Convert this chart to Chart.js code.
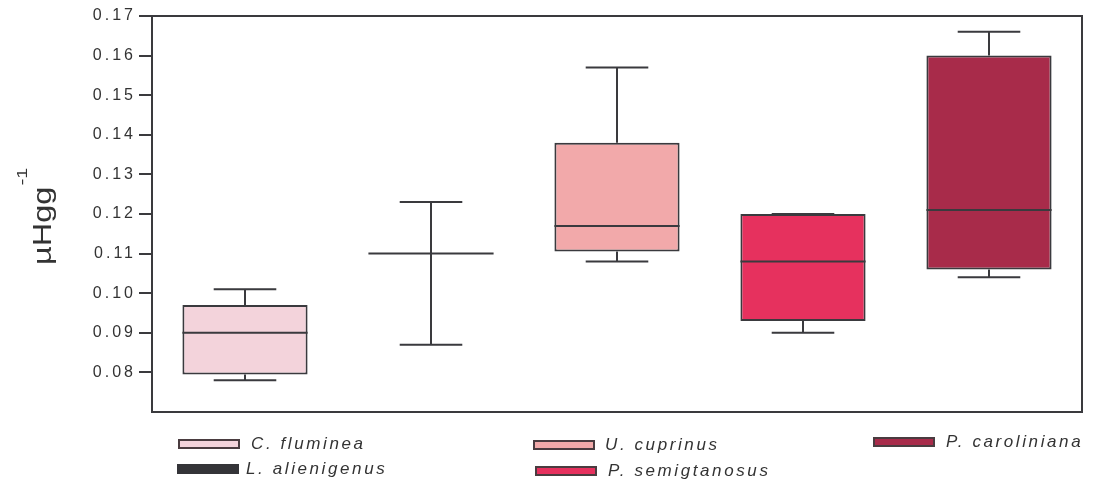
<!DOCTYPE html>
<html>
<head>
<meta charset="utf-8">
<script src="https://cdn.jsdelivr.net/npm/chart.js@4/dist/chart.umd.min.js"></script>
<style>
  html, body { margin: 0; padding: 0; background: #fff; }
  #wrap { position: relative; width: 1093px; height: 481px; overflow: hidden; }
  #chart { position: absolute; left: 0; top: 0; }
  .key { position: absolute; display: flex; align-items: center; }
  .swatch { box-sizing: border-box; width: 62px; height: 10px; border: 2px solid #4a3c40; }
  .key span {
    font-family: "Liberation Sans", Arial, sans-serif; font-style: italic;
    font-size: 17px; letter-spacing: 2.6px; color: #333; line-height: 20px;
  }
</style>
</head>
<body>
<div id="wrap">
  <canvas id="chart" width="1093" height="481"></canvas>
</div>
<script>
// Mercury concentration by species (box-and-whisker summary)
const categories = ['C. fluminea', 'L. alienigenus', 'U. cuprinus', 'P. semigtanosus', 'P. caroliniana'];
const whiskerLow  = [0.078, 0.087, 0.108, 0.090, 0.104];
const quartile1   = [0.0795, 0.110, 0.1105, 0.093, 0.106];
const medians     = [0.090, 0.110, 0.117, 0.108, 0.121];
const quartile3   = [0.097, 0.110, 0.138, 0.120, 0.160];
const whiskerHigh = [0.101, 0.123, 0.157, 0.120, 0.166];
const fillColors  = ['#f3d3db', '#343438', '#f2a9aa', '#e6315e', '#a82b4a'];
const tickLabels  = ['0.08', '0.09', '0.10', '0.11', '0.12', '0.13', '0.14', '0.15', '0.16', '0.17'];

const INK = '#3a3a3e';

// Legend laid out in three columns below the plot
const legendSpots = [
  { sx: 178, sy: 439, tx: 251, ty: 444 },
  { sx: 177, sy: 464, tx: 246, ty: 469 },
  { sx: 533, sy: 440, tx: 605, ty: 445 },
  { sx: 535, sy: 466, tx: 608, ty: 471 },
  { sx: 873, sy: 437, tx: 946, ty: 442 }
];
const wrap = document.getElementById('wrap');
categories.forEach((name, i) => {
  const p = legendSpots[i];
  const sw = document.createElement('div');
  sw.className = 'swatch';
  sw.style.position = 'absolute';
  sw.style.left = p.sx + 'px';
  sw.style.top = p.sy + 'px';
  sw.style.background = fillColors[i];
  if (i === 1) sw.style.borderColor = fillColors[i];
  wrap.appendChild(sw);
  const tx = document.createElement('div');
  tx.className = 'key';
  tx.style.left = p.tx + 'px';
  tx.style.top = (p.ty - 10) + 'px';
  const s = document.createElement('span');
  s.textContent = name;
  tx.appendChild(s);
  wrap.appendChild(tx);
});

// Whiskers, caps, medians and the plot frame
const boxExtras = {
  id: 'boxExtras',
  beforeDraw(chart) { chart.ctx.letterSpacing = '3px'; },
  afterDatasetsDraw(chart) {
    const { ctx, scales: { x, y }, chartArea } = chart;
    const bars = chart.getDatasetMeta(0).data;
    ctx.save();
    ctx.letterSpacing = '0px';
    ctx.strokeStyle = INK;
    ctx.lineWidth = 2;
    categories.forEach((c, i) => {
      const cx = x.getPixelForValue(i);
      const half = bars[i].width / 2;
      const cap = half / 2;
      const yLo = y.getPixelForValue(whiskerLow[i]);
      const yHi = y.getPixelForValue(whiskerHigh[i]);
      const yQ1 = y.getPixelForValue(quartile1[i]);
      const yQ3 = y.getPixelForValue(quartile3[i]);
      const yMed = y.getPixelForValue(medians[i]);
      ctx.beginPath();
      ctx.moveTo(cx, yQ3); ctx.lineTo(cx, yHi);
      ctx.moveTo(cx, yQ1); ctx.lineTo(cx, yLo);
      ctx.moveTo(cx - cap, yHi); ctx.lineTo(cx + cap, yHi);
      ctx.moveTo(cx - cap, yLo); ctx.lineTo(cx + cap, yLo);
      ctx.moveTo(cx - half, yMed); ctx.lineTo(cx + half, yMed);
      ctx.stroke();
    });
    ctx.strokeRect(chartArea.left, chartArea.top, chartArea.right - chartArea.left, chartArea.bottom - chartArea.top);
    ctx.restore();
  },
  afterDraw(chart) {
    const ctx = chart.ctx;
    ctx.save();
    ctx.letterSpacing = '0px';
    ctx.fillStyle = '#333';
    ctx.translate(51, 265);
    ctx.rotate(-Math.PI / 2);
    ctx.scale(1.3, 1);
    ctx.textBaseline = 'alphabetic';
    ctx.textAlign = 'left';
    ctx.font = '25px "Liberation Sans", Arial, sans-serif';
    ctx.fillText('\u00b5Hgg', 0, 0);
    const w = ctx.measureText('\u00b5Hgg').width;
    ctx.font = '15px "Liberation Sans", Arial, sans-serif';
    ctx.fillText('-1', w + 1, -24);
    ctx.restore();
  }
};

new Chart(document.getElementById('chart'), {
  type: 'bar',
  data: {
    labels: categories,
    datasets: [{
      data: categories.map((c, i) => [quartile1[i], quartile3[i]]),
      backgroundColor: fillColors,
      borderColor: INK,
      borderWidth: 2,
      borderSkipped: false,
      barPercentage: 0.673,
      categoryPercentage: 1
    }]
  },
  options: {
    responsive: false,
    animation: false,
    events: [],
    layout: { padding: { left: 0, top: 16, right: 11, bottom: 69 } },
    plugins: { legend: { display: false }, tooltip: { enabled: false } },
    scales: {
      x: { display: false },
      y: {
        min: 0.07,
        max: 0.17,
        afterFit(s) { s.width = 152; },
        afterBuildTicks(s) { s.ticks = tickLabels.map(t => ({ value: parseFloat(t) })); },
        ticks: {
          padding: 3,
          color: '#333',
          font: { family: '"Liberation Sans", Arial, sans-serif', size: 16 },
          callback(v) { return tickLabels.find(t => Math.abs(parseFloat(t) - v) < 1e-6); }
        },
        grid: { drawOnChartArea: false, drawTicks: true, tickLength: 13, color: INK, lineWidth: 2 },
        border: { display: false }
      }
    }
  },
  plugins: [boxExtras]
});
</script>
</body>
</html>
